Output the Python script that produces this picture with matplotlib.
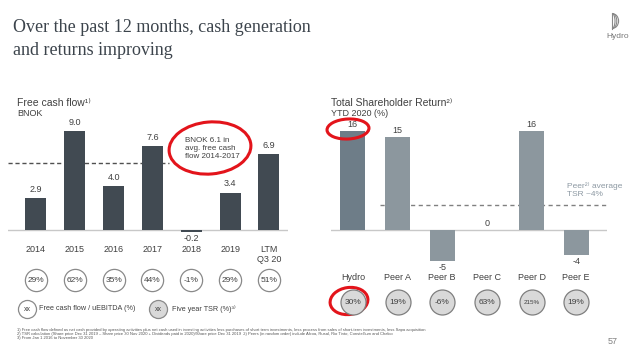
import matplotlib.pyplot as plt
from matplotlib.patches import Ellipse, Arc
from matplotlib.transforms import blended_transform_factory

plt.rcParams['font.family'] = ['Liberation Sans', 'DejaVu Sans']

# free cash flow, BNOK
fcf_years = ["2014", "2015", "2016", "2017", "2018", "2019", "LTM\nQ3 20"]
fcf_values = [2.9, 9.0, 4.0, 7.6, -0.2, 3.4, 6.9]
fcf_ratio = ["29%", "62%", "35%", "44%", "-1%", "29%", "51%"]
fcf_avg = 6.1

# total shareholder return YTD 2020
tsr_names = ["Hydro", "Peer A", "Peer B", "Peer C", "Peer D", "Peer E"]
tsr_values = [16, 15, -5, 0, 16, -4]
tsr_5y = ["30%", "19%", "-6%", "63%", "215%", "19%"]
peer_avg = 4

W, H = 640, 355
fig = plt.figure(figsize=(W / 100, H / 100), dpi=100)

def px_axes(x0, x1, y0, y1):
    # axes placed in pixel coords (y from top)
    return fig.add_axes([x0 / W, 1 - y1 / H, (x1 - x0) / W, (y1 - y0) / H])

ax1 = px_axes(8, 288, 120, 240)
ax2 = px_axes(331, 607, 120, 265)
ov = fig.add_axes([0, 0, 1, 1], zorder=5)
ov.set_xlim(0, W)
ov.set_ylim(H, 0)
ov.axis('off')

txt = '#404040'
dark = '#414a52'

# ---- left chart
x1 = list(range(len(fcf_values)))
ax1.bar(x1, fcf_values, width=0.54, color=dark, zorder=2)
ax1.set_xlim(-0.72, 6.49)
ax1.set_ylim(-0.91, 10)
ax1.axhline(0, color='#c8c8c8', lw=1, zorder=1)
ax1.axhline(fcf_avg, xmin=0, xmax=0.575, color='#505050', lw=1, ls=(0, (3, 2)), zorder=1)
ax1.axis('off')
for i, v in enumerate(fcf_values):
    if v >= 0:
        ax1.annotate(f"{v:.1f}", (i, v), xytext=(0, 3), textcoords='offset points',
                     ha='center', va='bottom', fontsize=6.5, color=txt)
    else:
        ax1.annotate(f"{v:.1f}", (i, v), xytext=(0, -1), textcoords='offset points',
                     ha='center', va='top', fontsize=6.5, color=txt)

tr1 = blended_transform_factory(ax1.transData, ov.transData)
for i, lab in enumerate(fcf_years):
    ov.text(i, 245, lab, transform=tr1, ha='center', va='top', fontsize=6.5,
            color=txt, linespacing=1.1)
    ov.plot(i, 280, marker='o', ms=16, mfc='white', mec='#8a8a8a', mew=0.9,
            transform=tr1, clip_on=False)
    ov.text(i, 280.5, fcf_ratio[i], transform=tr1, ha='center', va='center',
            fontsize=6, color=txt)

ov.text(17, 103, "Free cash flow\u00b9\u207e", fontsize=7.5, color=txt, va='center')
ov.text(17, 114, "BNOK", fontsize=6.5, color=txt, va='center')
ov.text(185, 137, "BNOK 6.1 in\navg. free cash\nflow 2014-2017", fontsize=5.8,
        color=txt, va='top', linespacing=1.25)

# legend
ov.plot(27, 309, marker='o', ms=13, mfc='white', mec='#8a8a8a', mew=0.9)
ov.text(27, 309.5, "xx", fontsize=5, ha='center', va='center', color=txt)
ov.text(39, 309, "Free cash flow / uEBITDA (%)", fontsize=5.2, va='center', color=txt)
ov.plot(158, 309, marker='o', ms=13, mfc='#d9d9d9', mec='#8a8a8a', mew=0.9)
ov.text(158, 309.5, "xx", fontsize=5, ha='center', va='center', color=txt)
ov.text(172, 309, "Five year TSR (%)\u00b3\u207e", fontsize=5.2, va='center', color=txt)

# ---- right chart
x2 = list(range(len(tsr_values)))
cols = ['#6e7d88'] + ['#8c979e'] * (len(tsr_values) - 1)
ax2.bar(x2, tsr_values, width=0.56, color=cols, zorder=2)
ax2.set_xlim(-0.49, 5.69)
ax2.set_ylim(-5.65, 17.74)
ax2.axhline(0, color='#c8c8c8', lw=1, zorder=1)
ax2.axhline(peer_avg, xmin=0.178, xmax=1, color='#808080', lw=1, ls=(0, (3, 2.5)), zorder=1)
ax2.axis('off')
for i, v in enumerate(tsr_values):
    if v >= 0:
        ax2.annotate(f"{v}", (i, v), xytext=(0, 1.5), textcoords='offset points',
                     ha='center', va='bottom', fontsize=6.5, color=txt)
    else:
        ax2.annotate(f"{v}", (i, v), xytext=(0, -1.5), textcoords='offset points',
                     ha='center', va='top', fontsize=6.5, color=txt)

tr2 = blended_transform_factory(ax2.transData, ov.transData)
for i, lab in enumerate(tsr_names):
    ov.text(i, 277, lab, transform=tr2, ha='center', va='center', fontsize=6.5, color=txt)
    ov.plot(i, 302, marker='o', ms=18, mfc='#d9d9d9', mec='#7f7f7f', mew=0.9,
            transform=tr2, clip_on=False)
    fs = 4.5 if len(tsr_5y[i]) > 3 else 6
    ov.text(i, 302.5, tsr_5y[i], transform=tr2, ha='center', va='center',
            fontsize=fs, color=txt)

ov.text(331, 103, "Total Shareholder Return\u00b2\u207e", fontsize=7.5, color=txt, va='center')
ov.text(331, 114, "YTD 2020 (%)", fontsize=6.5, color=txt, va='center')
ov.text(567, 190, "Peer\u00b2\u207e average\nTSR ~4%", fontsize=6, color='#8d99a3',
        va='center', linespacing=1.2)

# ---- title, logo, footnotes
title_font = dict(family='Liberation Serif', fontsize=13.0, color='#3c444c', va='baseline')
ov.text(13, 32, "Over the past 12 months, cash generation", **title_font)
ov.text(13, 55, "and returns improving", **title_font)
for r in [3.0, 4.8, 6.6]:
    ov.add_patch(Arc((612, 21), 2 * r, 15, theta1=-90, theta2=90,
                     color='#888888', lw=0.8))
ov.plot([612, 612], [13.5, 28.5], color='#888888', lw=0.8)
ov.text(618, 36, "Hydro", fontsize=6, color='#777777', ha='center', va='center')

notes = ("1) Free cash flow defined as net cash provided by operating activities plus net cash used in investing "
         "activities less purchases of short term investments, less process from sales of short-term investments, "
         "less Sapa acquisition\n"
         "2) TSR calculation (Share price Dec 31 2019 \u2013 Share price 30 Nov 2020 + Dividends paid in 2020)/Share "
         "price Dec 31 2019  2) Peers (in random order) include Alcoa, Rusal, Rio Tinto, Constellium and Chalco\n"
         "3) From Jan 1 2016 to November 30 2020")
ov.text(17, 328, notes, fontsize=3.0, color='#555555', va='top', linespacing=1.05)
ov.text(613, 341, "57", fontsize=6.5, color='#808080', ha='center', va='center')

# red marker annotations
red = '#e3141b'
ov.add_patch(Ellipse((210, 148), 82, 52, angle=-5, fill=False, ec=red, lw=2.2))
ov.add_patch(Ellipse((348, 129), 42, 20, angle=-3, fill=False, ec=red, lw=2.2))
ov.add_patch(Ellipse((349, 301), 38, 27, angle=-8, fill=False, ec=red, lw=2.2))

fig.savefig('out.png', dpi=100)
